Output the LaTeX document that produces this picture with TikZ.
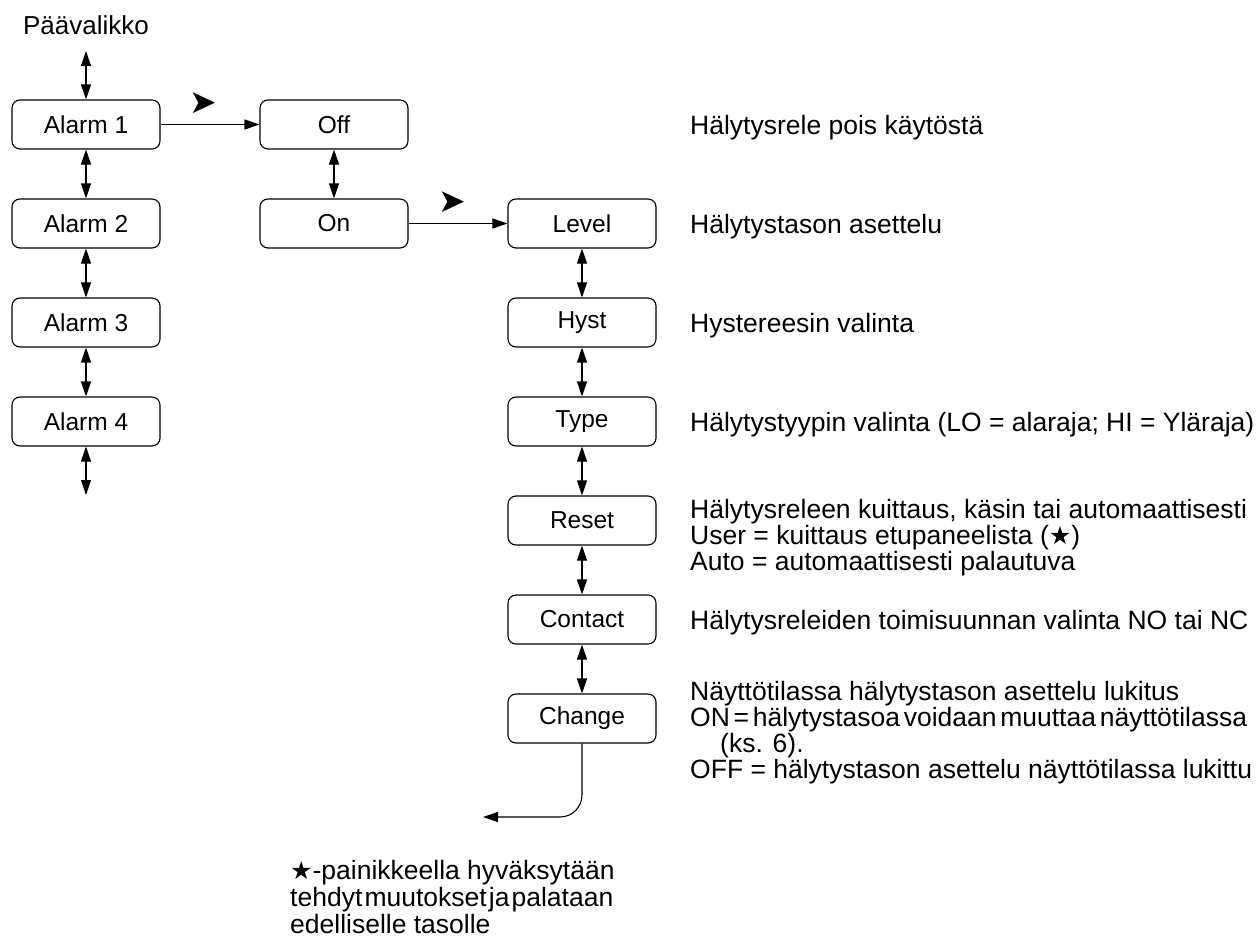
\documentclass[tikz,border=0pt]{standalone}
\usepackage{fontspec}
\setmainfont{Liberation Sans}
\newfontfamily\dejavu{DejaVu Sans}
\newcommand{\bigstar}{{\dejavu\fontsize{25}{26}\selectfont ★}}
\usetikzlibrary{arrows.meta}
\begin{document}
\begin{tikzpicture}[x=1pt,y=-1pt,
  box/.style={draw, line width=1.1pt, rounded corners=8pt, minimum width=148pt, minimum height=49pt, inner sep=0pt, font=\fontsize{24.5}{27}\selectfont},
  lbl/.style={anchor=base west, inner sep=0pt, font=\fontsize{26.5}{27}\selectfont},
  conn/.style={line width=1.1pt, -{Triangle[length=15pt,width=10pt]}},
  dconn/.style={line width=1.1pt, {Triangle[length=15pt,width=10pt]}-{Triangle[length=15pt,width=10pt]}},
  pointer/.style={inner sep=0pt, font=\dejavu\fontsize{33}{33}\selectfont},
]
\useasboundingbox (0,0) rectangle (1260,942);

% left column
\node[inner sep=0pt, font=\fontsize{26}{27}\selectfont] (main) at (86,25) {Päävalikko};
\node[box] (a1) at (86,124.5) {Alarm 1};
\node[box] (a2) at (86,223.5) {Alarm 2};
\node[box] (a3) at (86,322.5) {Alarm 3};
\node[box] (a4) at (86,421.5) {Alarm 4};
\coordinate (top) at (86,51);
\coordinate (bot) at (86,495);
\draw[dconn] (top) -- (a1.north);
\draw[dconn] (a1.south) -- (a2.north);
\draw[dconn] (a2.south) -- (a3.north);
\draw[dconn] (a3.south) -- (a4.north);
\draw[dconn] (a4.south) -- (bot);

% middle column
\node[box] (off) at (334,124.5) {Off};
\node[box] (on) at (334,223.5) {On};
\draw[dconn] (off.south) -- (on.north);
\draw[conn] (a1.east) -- (off.west);
\node[pointer] (p1) at (203,103) {➤};

% right column
\node[box] (level) at (582,223.5) {Level};
\node[box] (hyst) at (582,322.5) {Hyst};
\node[box] (type) at (582,421.5) {Type};
\node[box] (reset) at (582,520.5) {Reset};
\node[box] (contact) at (582,619.5) {Contact};
\node[box] (change) at (582,718.5) {Change};
\draw[conn] (on.east) -- (level.west);
\node[pointer] (p2) at (452,202) {➤};
\draw[dconn] (level.south) -- (hyst.north);
\draw[dconn] (hyst.south) -- (type.north);
\draw[dconn] (type.south) -- (reset.north);
\draw[dconn] (reset.south) -- (contact.north);
\draw[dconn] (contact.south) -- (change.north);
\coordinate (ret) at (483,817);
\draw[conn, rounded corners=22pt] (change.south) |- (ret);

% descriptions
\node[lbl] (d1) at (690,134) {Hälytysrele pois käytöstä};
\node[lbl] (d2) at (690,233) {Hälytystason asettelu};
\node[lbl] (d3) at (690,332) {Hystereesin valinta};
\node[lbl] (d4) at (690,431) {Hälytystyypin valinta (LO = alaraja; HI = Yläraja)};
\node[lbl] (d5a) at (690,518) {Hälytysreleen kuittaus, käsin tai automaattisesti};
\node[lbl] (d5b) at (690,544) {User = kuittaus etupaneelista (\bigstar)};
\node[lbl] (d5c) at (690,570) {Auto = automaattisesti palautuva};
\node[lbl] (d6) at (690,629) {Hälytysreleiden toimisuunnan valinta NO tai NC};
\node[lbl] (d7a) at (690,700) {Näyttötilassa hälytystason asettelu lukitus};
\node[lbl] (d7b) at (690,726) {\spaceskip=0.14em ON = hälytystasoa voidaan muuttaa näyttötilassa};
\node[lbl] (d7c) at (720,752) {(ks. 6).};
\node[lbl] (d7d) at (690,778) {OFF = hälytystason asettelu näyttötilassa lukittu};

% bottom note
\node[lbl] (n1) at (290,879) {\bigstar-painikkeella hyväksytään};
\node[lbl] (n2) at (290,906) {\spaceskip=0.08em tehdyt muutokset ja palataan};
\node[lbl] (n3) at (290,933) {edelliselle tasolle};
\end{tikzpicture}
\end{document}
